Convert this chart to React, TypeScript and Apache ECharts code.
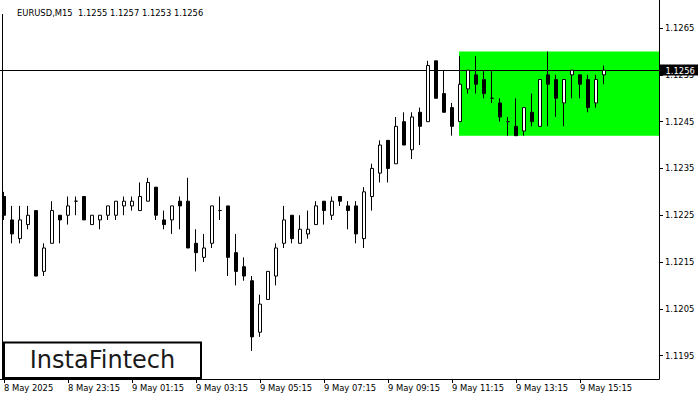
import React, { useEffect, useRef } from "react";
import * as echarts from "echarts";

const FONT = '"DejaVu Sans", Verdana, sans-serif';

const title = "EURUSD,M15  1.1255 1.1257 1.1253 1.1256";
const logoText = "InstaFintech";

const tickLabels = [
  "8 May 2025", "8 May 23:15", "9 May 01:15", "9 May 03:15", "9 May 05:15",
  "9 May 07:15", "9 May 09:15", "9 May 11:15", "9 May 13:15", "9 May 15:15",
];
const priceTicks = [1.1195, 1.1205, 1.1215, 1.1225, 1.1235, 1.1245, 1.1255, 1.1265];

const opens = [
  1.1229, 1.1224, 1.1220, 1.1223, 1.1226, 1.1213, 1.1219, 1.1225, 1.1225, 1.1228,
  1.1229, 1.1223, 1.1224, 1.1225, 1.1225, 1.1227, 1.1227, 1.1226, 1.1228, 1.1231,
  1.1224, 1.1224, 1.1228, 1.1228, 1.1219, 1.1216, 1.1219, 1.1226, 1.1227, 1.1217,
  1.1214, 1.1211, 1.1200, 1.1207, 1.1212, 1.1219, 1.1225, 1.1219, 1.1221, 1.1223,
  1.1228, 1.1225, 1.1229, 1.1227, 1.1227, 1.1220, 1.1229, 1.1234, 1.1241, 1.1236,
  1.1245, 1.1239, 1.1247, 1.1245, 1.1258, 1.1251, 1.1248, 1.1245, 1.1252, 1.1255,
  1.1254, 1.1250, 1.1249, 1.1245, 1.1244, 1.1243, 1.1247, 1.1244, 1.1255, 1.1254,
  1.1249, 1.1255, 1.1255, 1.1254, 1.1249, 1.1255,
];
const closes = [
  1.1225, 1.1221, 1.1224, 1.1225, 1.1212, 1.1218, 1.1226, 1.1224, 1.1227, 1.1228,
  1.1224, 1.1225, 1.1225, 1.1227, 1.1228, 1.1228, 1.1228, 1.1229, 1.1232, 1.1225,
  1.1223, 1.1227, 1.1227, 1.1218, 1.1217, 1.1218, 1.1227, 1.1226, 1.1216, 1.1213,
  1.1212, 1.1199, 1.1206, 1.1213, 1.1218, 1.1224, 1.1220, 1.1222, 1.1222, 1.1227,
  1.1226, 1.1228, 1.1228, 1.1226, 1.1221, 1.1230, 1.1235, 1.1240, 1.1235, 1.1244,
  1.1240, 1.1246, 1.1244, 1.1257, 1.1250, 1.1247, 1.1244, 1.1253, 1.1256, 1.1253,
  1.1251, 1.1250, 1.1246, 1.1245, 1.1242, 1.1248, 1.1245, 1.1254, 1.1253, 1.1250,
  1.1254, 1.1256, 1.1253, 1.1248, 1.1254, 1.1256,
];
const lows = [
  1.1224, 1.1219, 1.1219, 1.1222, 1.1212, 1.1212, 1.1219, 1.1219, 1.1223, 1.1225,
  1.1224, 1.1223, 1.1222, 1.1224, 1.1224, 1.1225, 1.1226, 1.1226, 1.1228, 1.1224,
  1.1222, 1.1221, 1.1222, 1.1218, 1.1213, 1.1215, 1.1218, 1.1224, 1.1212, 1.1210,
  1.1211, 1.1196, 1.1199, 1.1207, 1.1210, 1.1218, 1.1219, 1.1219, 1.1220, 1.1223,
  1.1223, 1.1224, 1.1227, 1.1222, 1.1219, 1.1218, 1.1226, 1.1232, 1.1232, 1.1236,
  1.1240, 1.1237, 1.1240, 1.1245, 1.1250, 1.1247, 1.1242, 1.1245, 1.1251, 1.1251,
  1.1250, 1.1249, 1.1245, 1.1242, 1.1242, 1.1242, 1.1244, 1.1244, 1.1244, 1.1246,
  1.1244, 1.1250, 1.1250, 1.1247, 1.1248, 1.1253,
];
const highs = [
  1.1230, 1.1227, 1.1227, 1.1227, 1.1226, 1.1219, 1.1228, 1.1225, 1.1229, 1.1229,
  1.1229, 1.1225, 1.1225, 1.1227, 1.1228, 1.1229, 1.1229, 1.1232, 1.1233, 1.1231,
  1.1226, 1.1227, 1.1229, 1.1233, 1.1222, 1.1221, 1.1227, 1.1229, 1.1227, 1.1221,
  1.1216, 1.1212, 1.1208, 1.1213, 1.1219, 1.1227, 1.1225, 1.1225, 1.1226, 1.1228,
  1.1228, 1.1229, 1.1229, 1.1228, 1.1228, 1.1231, 1.1236, 1.1241, 1.1241, 1.1246,
  1.1247, 1.1247, 1.1248, 1.1258, 1.1258, 1.1256, 1.1249, 1.1259, 1.1256, 1.1259,
  1.1256, 1.1256, 1.1250, 1.1246, 1.1250, 1.1248, 1.1251, 1.1254, 1.1260, 1.1255,
  1.1254, 1.1256, 1.1255, 1.1255, 1.1255, 1.1257,
];

const currentPrice = 1.1256;
const zoneStartIndex = 57;
const zoneTop = 1.126;
const zoneBottom = 1.1242;

const SLOT_COUNT = 82; // 76 candles + empty slots to the right edge
const AXIS_OFFSET = 3;

function buildCategories(): string[] {
  const out: string[] = [];
  let day = 8;
  let minutes = 21 * 60 + 15;
  for (let i = 0; i < SLOT_COUNT; i++) {
    const h = Math.floor(minutes / 60);
    const m = minutes % 60;
    out.push(`${day} May ${String(h).padStart(2, "0")}:${String(m).padStart(2, "0")}`);
    minutes += 15;
    if (minutes >= 24 * 60) {
      minutes -= 24 * 60;
      day += 1;
    }
  }
  return out;
}

export default function App() {
  const ref = useRef<HTMLDivElement>(null);

  useEffect(() => {
    const chart = echarts.init(ref.current!, null, { renderer: "svg" });
    const categories = buildCategories();
    const candles = opens.map((o, i) => [o, closes[i], lows[i], highs[i]]);
    const isTick = (index: number) => index % 8 === 0 && index / 8 < tickLabels.length;

    const option: any = {
      animation: false,
      backgroundColor: "#ffffff",
      grid: { left: 0, top: 0, width: SLOT_COUNT * 8, bottom: 21, containLabel: false },
      xAxis: {
        type: "category",
        data: categories,
        boundaryGap: true,
        axisLine: { show: false },
        axisTick: {
          show: true,
          alignWithLabel: true,
          interval: (index: number) => isTick(index),
          length: 4,
          lineStyle: { color: "#000", width: 1 },
        },
        axisLabel: {
          interval: (index: number) => isTick(index),
          formatter: (_v: string, index: number) => tickLabels[index / 8] ?? "",
          align: "left",
          margin: 5,
          color: "#000",
          fontFamily: FONT,
          fontSize: 8.4,
        },
        splitLine: { show: false },
      },
      yAxis: {
        type: "value",
        position: "right",
        offset: AXIS_OFFSET,
        min: 1.119,
        max: 1.1271,
        axisLine: { show: true, lineStyle: { color: "#000", width: 1 } },
        axisTick: {
          show: true,
          customValues: priceTicks,
          length: 4,
          lineStyle: { color: "#000" },
        },
        axisLabel: {
          customValues: priceTicks,
          formatter: (v: number) => v.toFixed(4),
          margin: 6,
          color: "#000",
          fontFamily: FONT,
          fontSize: 8.4,
        },
        splitLine: { show: false },
      },
      series: [
        {
          type: "custom",
          z: 1,
          silent: true,
          data: [[zoneStartIndex, zoneTop, zoneBottom]],
          encode: { x: 0, y: [1, 2] },
          renderItem: (params: any, api: any) => {
            const p1 = api.coord([api.value(0), api.value(1)]);
            const p2 = api.coord([api.value(0), api.value(2)]);
            const band = api.size([1, 0])[0];
            const cs = params.coordSys;
            const x = p1[0] - band / 8;
            return {
              type: "rect",
              shape: { x, y: p1[1], width: cs.x + cs.width + AXIS_OFFSET - x, height: p2[1] - p1[1] },
              style: { fill: "#00ff00" },
            };
          },
        },
        {
          type: "custom",
          z: 1.5,
          silent: true,
          data: [[candles.length - 1, currentPrice]],
          encode: { x: 0, y: 1 },
          renderItem: (params: any, api: any) => {
            const p = api.coord([api.value(0), api.value(1)]);
            const cs = params.coordSys;
            const y = Math.round(p[1]) + 0.5;
            const right = cs.x + cs.width + AXIS_OFFSET;
            return {
              type: "group",
              children: [
                {
                  type: "line",
                  shape: { x1: cs.x, y1: y, x2: right, y2: y },
                  style: { stroke: "#000", lineWidth: 1 },
                },
                {
                  type: "rect",
                  shape: { x: right + 1, y: y - 6, width: 38, height: 11 },
                  style: { fill: "#000" },
                },
                {
                  type: "text",
                  x: right + 6.5,
                  y: y,
                  style: {
                    text: currentPrice.toFixed(4),
                    fill: "#fff",
                    font: `8.4px ${FONT}`,
                    verticalAlign: "middle",
                    align: "left",
                  },
                },
              ],
            };
          },
        },
        {
          type: "candlestick",
          z: 2,
          data: candles,
          barWidth: 4,
          itemStyle: {
            color: "#ffffff",
            color0: "#000000",
            borderColor: "#000000",
            borderColor0: "#000000",
            borderWidth: 1,
          },
        },
      ],
      graphic: [
        {
          type: "text",
          left: 17,
          top: 9,
          style: { text: title, fill: "#000", font: `8.4px ${FONT}` },
        },
        {
          type: "line",
          shape: { x1: 2.5, y1: 14, x2: 2.5, y2: 379 },
          style: { stroke: "#000", lineWidth: 1 },
        },
        {
          type: "line",
          shape: { x1: 0, y1: 379.5, x2: 659.5, y2: 379.5 },
          style: { stroke: "#000", lineWidth: 1 },
        },
        {
          type: "rect",
          shape: { x: 4, y: 342.5, width: 197, height: 35.5 },
          style: { fill: "#fff", stroke: "#000", lineWidth: 2 },
          z: 10,
        },
        {
          type: "text",
          x: 102.5,
          y: 360,
          z: 11,
          style: {
            text: logoText,
            fill: "#1a1a1a",
            font: `24px ${FONT}`,
            align: "center",
            verticalAlign: "middle",
          },
        },
      ],
    };

    chart.setOption(option);
    return () => chart.dispose();
  }, []);

  return (
    <div
      ref={ref}
      style={{ position: "fixed", left: 0, top: 0, width: 700, height: 400, background: "#fff" }}
    />
  );
}
